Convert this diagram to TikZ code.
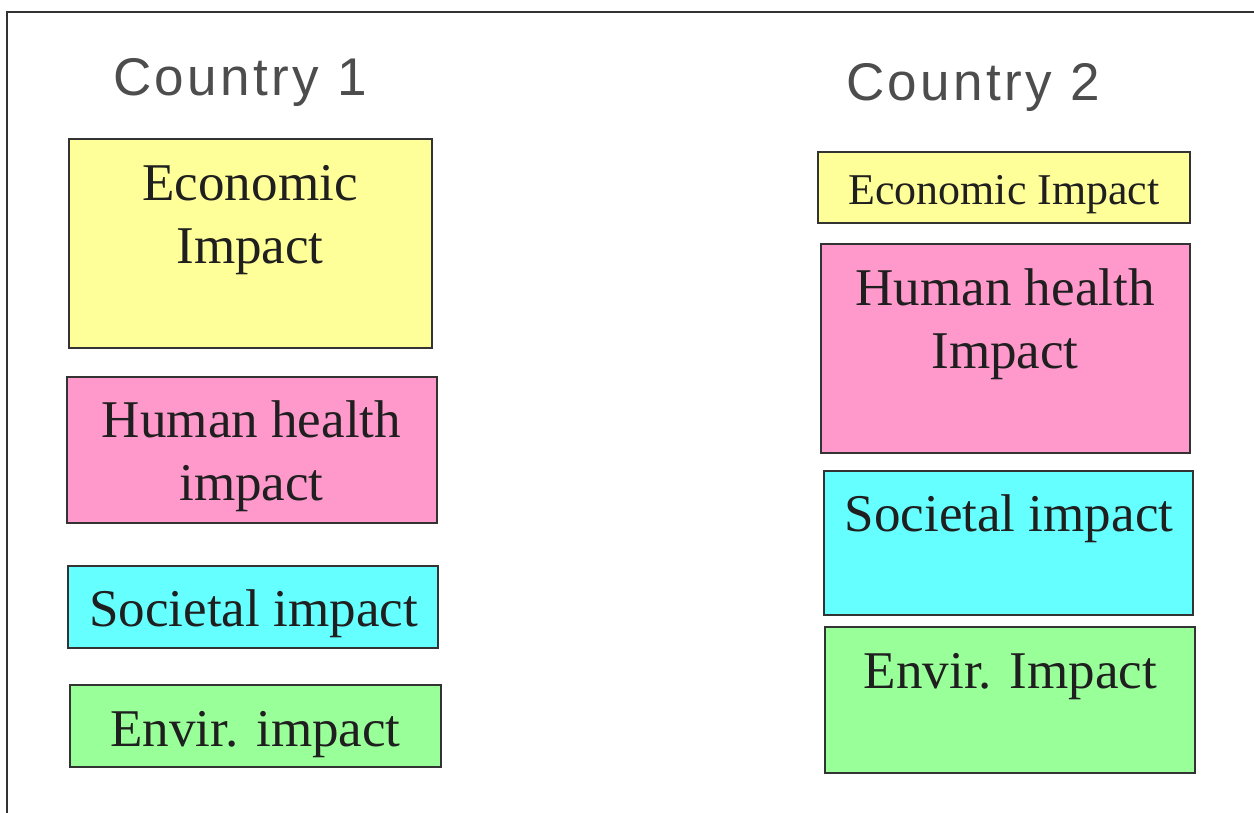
\documentclass[tikz,border=0pt]{standalone}
\usepackage{fontspec}
\setmainfont{Liberation Serif}
\setsansfont{Liberation Sans}

\definecolor{econ}{HTML}{FFFF99}
\definecolor{health}{HTML}{FF99CC}
\definecolor{society}{HTML}{66FFFF}
\definecolor{envir}{HTML}{99FF99}
\definecolor{titlegray}{HTML}{4D4D4D}
\definecolor{edge}{HTML}{333333}

\tikzset{
  impactbox/.style={draw=edge, line width=0.04cm},
  impactlabel/.style={anchor=base, align=center, inner sep=0pt, text=black!88,
    font=\fontsize{30.2}{35.9}\selectfont},
  countrylabel/.style={anchor=base, inner sep=0pt, text=titlegray,
    font=\sffamily\fontsize{30.2}{36}\selectfont\addfontfeature{LetterSpace=6.4}}
}

\begin{document}
\begin{tikzpicture}
  \useasboundingbox (0,0) rectangle (25.08,-16.24);

  % Outer frame (runs off the page at right and bottom)
  \draw[draw=edge, line width=0.04cm] (25.3cm,-0.234cm) -- (0.15cm,-0.234cm) -- (0.15cm,-16.5cm);

  % Country 1 column (two-line labels sit on their last baseline)
  \node[countrylabel] (countryA) at (4.80cm,-1.90cm) {Country 1};
  \draw[impactbox, fill=econ] (1.38cm,-2.786cm) rectangle ++(7.254,-4.174);
  \node[impactlabel] (econA) at (5.00cm,-5.266cm) {Economic\\Impact};
  \draw[impactbox, fill=health] (1.334cm,-7.546cm) rectangle ++(7.40,-2.92);
  \node[impactlabel] (healthA) at (5.03cm,-10.014cm) {Human health\\impact};
  \draw[impactbox, fill=society] (1.366cm,-11.32cm) rectangle ++(7.40,-1.634);
  \node[impactlabel] (societyA) at (5.07cm,-12.534cm) {Societal impact};
  \draw[impactbox, fill=envir] (1.406cm,-13.70cm) rectangle ++(7.408,-1.646);
  \node[impactlabel] (envirA) at (5.11cm,-14.934cm) {Envir. impact};

  % Country 2 column
  \node[countrylabel] (countryB) at (19.46cm,-2.0cm) {Country 2};
  \draw[impactbox, fill=econ] (16.354cm,-3.046cm) rectangle ++(7.446,-1.408);
  \node[impactlabel, font=\fontsize{25}{30}\selectfont] (econB) at (20.08cm,-4.08cm) {Economic Impact};
  \draw[impactbox, fill=health] (16.42cm,-4.88cm) rectangle ++(7.38,-4.186);
  \node[impactlabel] (healthB) at (20.10cm,-7.366cm) {Human health\\Impact};
  \draw[impactbox, fill=society] (16.474cm,-9.414cm) rectangle ++(7.38,-2.892);
  \node[impactlabel] (societyB) at (20.18cm,-10.62cm) {Societal impact};
  \draw[impactbox, fill=envir] (16.506cm,-12.546cm) rectangle ++(7.394,-2.908);
  \node[impactlabel] (envirB) at (20.21cm,-13.766cm) {Envir. Impact};
\end{tikzpicture}
\end{document}
